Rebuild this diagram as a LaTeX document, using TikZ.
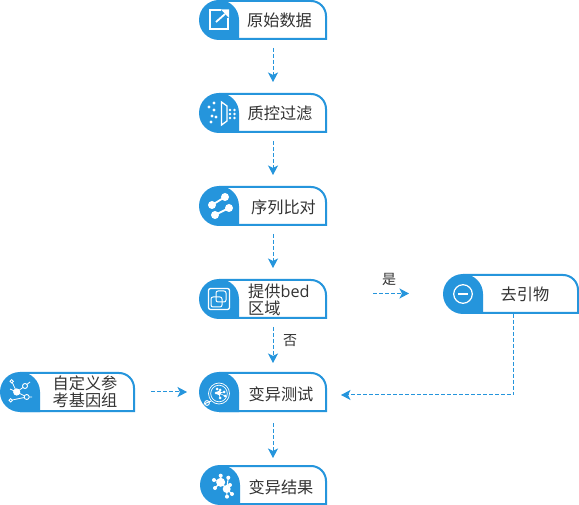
\documentclass[tikz,border=0pt]{standalone}
\usepackage{fontspec}
\setmainfont{Open Sans}
\newfontfamily\cjk{Noto Sans CJK SC}
\usetikzlibrary{arrows.meta,calc}
\definecolor{bl}{HTML}{2595DC}
\definecolor{tx}{HTML}{333333}
\tikzset{
  boxnode/.style={inner sep=0pt,outer sep=0pt,minimum height=40pt,rectangle},
  lab/.style={inner sep=0pt,text=tx,font=\fontsize{16.2}{17.5}\selectfont\cjk,align=center},
  flow/.style={bl,line width=1pt,dash pattern=on 4pt off 2pt,-{Stealth[length=9.5pt,width=10pt,inset=2.5pt,bl]}},
  ic/.style={white,line width=1.3pt},
}
% name, left, top, width
\newcommand{\flowbox}[4]{%
  \node[boxnode,minimum width=#4 pt,anchor=north west] (#1) at (#2,#3) {};
  \draw[bl,line width=2pt] ($(#2,#3)+(20,1)$) -- ($(#2,#3)+(#4-16,1)$)
     arc[start angle=90,end angle=0,radius=15pt] -- ($(#2,#3)+(#4-1,39)$) -- ($(#2,#3)+(20,39)$);
  \fill[bl] ($(#2,#3)+(20,0)$) arc[start angle=90,end angle=270,radius=20pt] -- ($(#2,#3)+(40,40)$)
     -- ($(#2,#3)+(40,20)$) arc[start angle=0,end angle=90,radius=20pt] -- cycle;
}
\begin{document}
\begin{tikzpicture}[x=1pt,y=-1pt]
\useasboundingbox (0,0) rectangle (579,505);
\fill[white] (0,0) rectangle (579,505);

\flowbox{a}{199}{0}{128}
\flowbox{b}{199}{93}{128}
\flowbox{c}{199}{186}{128}
\flowbox{d}{199}{279}{128}
\flowbox{e}{199}{372}{128}
\flowbox{f}{200}{465}{127}
\flowbox{g}{0}{372}{135}
\flowbox{h}{443}{274}{136}

\node[lab] (at) at (279.5,20) {原始数据};
\node[lab] (bt) at (280,113) {质控过滤};
\node[lab] (ct) at (283.5,207) {序列比对};
\node[lab,align=left,anchor=west] (dt) at (248,300) {提供{\rmfamily\fontsize{16.2}{17.5}\selectfont bed}\\区域};
\node[lab] (et) at (281,394) {变异测试};
\node[lab] (ft) at (281,487) {变异结果};
\node[lab] (gt) at (85,392) {自定义参\\考基因组};
\node[lab] (ht) at (525,294) {去引物};
\node[inner sep=0pt,text=tx,font=\fontsize{14}{15}\selectfont\cjk] (yes) at (389,279) {是};
\node[inner sep=0pt,text=tx,font=\fontsize{14}{15}\selectfont\cjk] (no) at (290,341) {否};

% connectors
\draw[flow,shorten <=8pt,shorten >=11pt] ($(a.south)+(10,0)$) -- ($(b.north)+(10,0)$);
\draw[flow,shorten <=8pt,shorten >=11pt] ($(b.south)+(10,0)$) -- ($(c.north)+(10,0)$);
\draw[flow,shorten <=8pt,shorten >=11pt] ($(c.south)+(10,0)$) -- ($(d.north)+(10,0)$);
\draw[flow,shorten <=8pt,shorten >=9pt] ($(d.south)+(10,0)$) -- ($(e.north)+(10,0)$);
\draw[flow,shorten <=11pt,shorten >=7pt] ($(e.south)+(10,0)$) -- ($(f.north)+(9.5,0)$);
\draw[flow,shorten <=16pt,shorten >=12pt] (g.east) -- (e.west);
\coordinate (yesa) at (373,293.5);
\coordinate (yesb) at (409,293.5);
\draw[flow] (yesa) -- (yesb);
\draw[flow,shorten >=1pt] (h.south -| 513.5,0) -- (513.5,395) -- ($(e.east |- 0,395)+(13,0)$);

% icon 1
\begin{scope}[shift={(219,20)}]
\draw[ic,line width=2pt] (2,-9.5) -- (-9.5,-9.5) -- (-9.5,9.5) -- (9,9.5) -- (9,-2);
\draw[ic,line width=1.8pt] (-3,2) -- (6,-6);
\fill[white] (2,-10.5) -- (10,-10.5) -- (10,-2) -- cycle;
\end{scope}
% icon 2
\begin{scope}[shift={(220,113)}]
\foreach \p in {(-6,-10),(-11,-6),(-6,-3),(-8,3),(-4,4),(-9,9)} \fill[white] \p circle (1.7);
\draw[ic] (1.5,-11) -- (7,-7) -- (7,8) -- (1.5,12) -- cycle;
\foreach \xx in {10,14.5} \foreach \yy in {-3,1,5} \fill[white] (\xx,\yy) circle (1.4);
\end{scope}
% icon 3
\begin{scope}[shift={(219,206)}]
\draw[ic,line width=1.8pt] (-7,-1) -- (6,-9) (-4,9) -- (10,2);
\foreach \p in {(-7,-1),(6,-9),(10,2),(-4,9)} \fill[white] \p circle (4);
\end{scope}
% icon 4
\begin{scope}[shift={(219,299)}]
\draw[ic,rounded corners=2pt] (-10.5,-10.5) rectangle (10.5,10.5);
\draw[ic,line width=1pt,rounded corners=2pt] (-8,-2) rectangle (3,8);
\draw[ic,line width=1pt,rounded corners=2pt] (-3,-8) rectangle (7,3);
\end{scope}
% icon e
\begin{scope}[shift={(219,392)}]
\draw[white,line width=.7pt] (0,1.5) circle (10.5) (0,1.5) circle (8.3);
\foreach \p in {(1,-2),(-3,1),(5,0),(1,6),(-2,-3),(6,4)} \fill[white] \p circle (1.5);
\fill[white] (0,1) circle (2.2);
\draw[white,line width=.6pt] (0,1) -- (-3,1) (0,1) -- (5,0) (0,1) -- (1,6) (0,1) -- (1,-2) (0,1) -- (6,4);
\draw[white,line width=1pt] (-8,9) -- (-15,12);
\draw[white,line width=.9pt] (-12,11) circle (2.4);
\end{scope}
% icon f
\begin{scope}[shift={(220,485)}]
\draw[white,line width=1.1pt] (.7,-2.7) -- (-6,-5) (.7,-2.7) -- (-5,3) (.7,-2.7) -- (.7,-9.3) (.7,-2.7) -- (6.7,4) (6.7,4) -- (8.3,-7.3) (6.7,4) -- (10,0) (6.7,4) -- (12,9) (6.7,4) -- (7,11.7);
\fill[white] (.7,-2.7) circle (4.5) (6.7,4) circle (4);
\foreach \p in {(-6,-5),(-5,3),(.7,-9.3),(8.3,-7.3),(10,0),(12,9),(7,11.7)} \fill[white] \p circle (2);
\end{scope}
% icon g
\begin{scope}[shift={(20,392)}]
\draw[white,line width=.8pt] (-8.3,-10.7) -- (-3.3,0) (-3.3,0) -- (5,-6) (5,-6) -- (10,-10) (-10,-3) -- (-3.3,0) (-9.3,8.3) -- (6.7,5) (6.7,5) -- (12,5) (-3.3,0) -- (6.7,5);
\fill[white] (-3.3,0) circle (3.6);
\foreach \p/\r in {(-8.3,-10.7)/1.7,(5,-6)/2.5,(6.7,5)/2.5,(-9.3,8.3)/1.7} \filldraw[draw=white,fill=bl,line width=.9pt] \p circle (\r);
\end{scope}
% icon h
\begin{scope}[shift={(463,294)}]
\draw[white,line width=1.2pt] (0,0) circle (9.3);
\draw[white,line width=1.6pt] (-5,0) -- (5,0);
\end{scope}
\end{tikzpicture}
\end{document}
